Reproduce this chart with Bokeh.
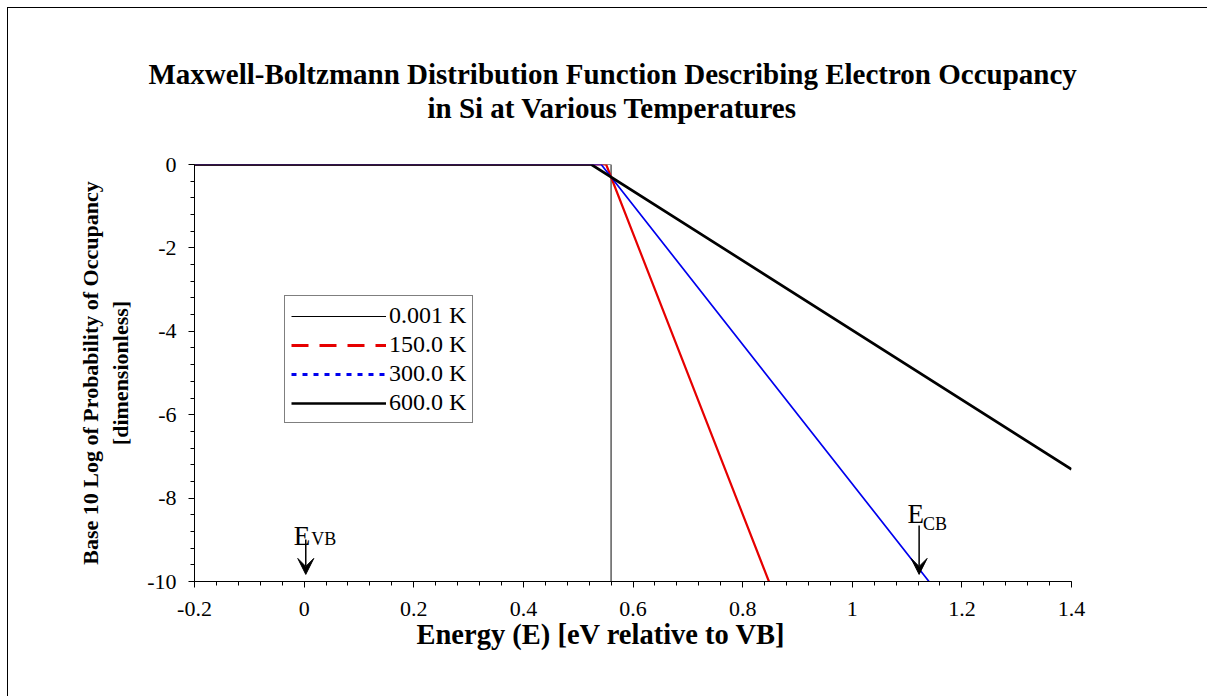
from bokeh.plotting import figure
from bokeh.models import (Range1d, FixedTicker, CustomJSTickFormatter, Legend, LegendItem,
                          Arrow, VeeHead, Title, ColumnDataSource)
from bokeh.core.properties import value
from bokeh.embed import file_html
from bokeh.resources import INLINE

# ---- data ----
series_names = ["0.001 K", "150.0 K", "300.0 K", "600.0 K"]
energy_0001 = [-0.2, 0.56, 0.56]
logp_0001 = [0.0, 0.0, -10.0]
energy_150 = [-0.2, 0.551, 0.848]
logp_150 = [0.0, 0.0, -10.0]
energy_300 = [-0.2, 0.542, 1.140]
logp_300 = [0.0, 0.0, -10.0]
energy_600 = [-0.2, 0.524, 1.4]
logp_600 = [0.0, 0.0, -7.31]

x_ticks = [-0.2, 0.0, 0.2, 0.4, 0.6, 0.8, 1.0, 1.2, 1.4]
x_tick_labels = ["-0.2", "0", "0.2", "0.4", "0.6", "0.8", "1", "1.2", "1.4"]
y_ticks = [-10, -8, -6, -4, -2, 0]
y_tick_labels = ["-10", "-8", "-6", "-4", "-2", "0"]

band_labels = ["E", "E"]
band_subs = ["VB", "CB"]
band_x = [0.003, 1.122]            # arrow energies
band_arrow_top = [-8.99, -8.66]
band_arrow_tip = [-9.83, -9.83]
band_label_x = [-0.019, 1.101]
band_label_y = [-8.92, -8.37]
band_sub_x = [0.013, 1.129]
band_sub_y = [-8.99, -8.63]

title_line1 = "Maxwell-Boltzmann Distribution Function Describing Electron Occupancy"
title_line2 = "in Si at Various Temperatures"
x_label = "Energy (E) [eV relative to VB]"
y_label = "Base 10 Log of Probability of Occupancy\n[dimensionless]"

FONT = "Liberation Serif"

p = figure(width=1200, height=689, x_range=Range1d(-0.2, 1.4), y_range=Range1d(-10, 0),
           output_backend="svg", toolbar_location=None,
           min_border_left=186, min_border_right=137, min_border_top=156, min_border_bottom=116,
           margin=(7, 0, 0, 7))
p.styles = {"border-top": "1px solid black", "border-left": "1px solid black"}
p.xgrid.visible = False
p.ygrid.visible = False
p.outline_line_color = None
p.background_fill_color = "white"
p.border_fill_color = "white"

t2 = Title(text=title_line2, text_font=FONT, text_font_size="29px", text_font_style="bold",
           align="left", offset=233, standoff=82, text_color="black")
t1 = Title(text=title_line1, text_font=FONT, text_font_size="29px", text_font_style="bold",
           align="left", offset=-46, standoff=-82, text_color="black")
p.add_layout(t2, "above")
p.add_layout(t1, "above")

minor_x = [round(-0.2 + 0.04 * i, 4) for i in range(41)]
minor_y = [round(-10 + 0.4 * i, 4) for i in range(26)]
p.xaxis.ticker = FixedTicker(ticks=x_ticks, minor_ticks=minor_x)
p.yaxis.ticker = FixedTicker(ticks=y_ticks, minor_ticks=minor_y)
fmt_code = """
let best = 0; let bd = 1e9;
for (let i = 0; i < vals.length; i++) { const d = Math.abs(vals[i] - tick); if (d < bd) { bd = d; best = i; } }
return labs[best];
"""
p.xaxis.formatter = CustomJSTickFormatter(args=dict(vals=x_ticks, labs=x_tick_labels), code=fmt_code)
p.yaxis.formatter = CustomJSTickFormatter(args=dict(vals=y_ticks, labs=y_tick_labels), code=fmt_code)

for ax in (p.xaxis[0], p.yaxis[0]):
    ax.axis_line_color = "black"
    ax.axis_line_width = 1
    ax.major_tick_line_color = "black"
    ax.minor_tick_line_color = "black"
    ax.major_tick_out = 6
    ax.major_tick_in = 0
    ax.minor_tick_out = 4
    ax.minor_tick_in = 0
    ax.major_label_text_font = FONT
    ax.major_label_text_font_size = "22px"
    ax.major_label_text_color = "black"
    ax.axis_label_text_font = FONT
    ax.axis_label_text_font_style = "bold"
    ax.axis_label_text_color = "black"

p.xaxis.major_label_standoff = 14
# x-axis title, placed as a title panel below the axis so it can be centred on the page
p.add_layout(Title(text=x_label, text_font=FONT, text_font_size="28.5px", text_font_style="bold",
                   align="left", offset=222, standoff=-4, text_color="black"), "below")
p.yaxis.axis_label = y_label
p.yaxis.axis_label_text_font_size = "22px"
p.yaxis.major_label_standoff = 12
p.yaxis.axis_label_standoff = 11

r1 = p.line(energy_0001, logp_0001, line_color="#333333", line_width=1.2)
r2 = p.line(energy_150, logp_150, line_color="#e60000", line_width=2.2)
r3 = p.line(energy_300, logp_300, line_color="#0000ee", line_width=1.7)
r4 = p.line(energy_600, logp_600, line_color="black", line_width=2.7)

# legend glyphs (dash styles as shown in the legend); NaN data -> nothing drawn in the plot
nan = float("nan")
def legend_src():
    return ColumnDataSource(dict(x=[nan, nan], y=[nan, nan]))
l1 = p.line("x", "y", source=legend_src(), line_color="black", line_width=1)
l2 = p.line("x", "y", source=legend_src(), line_color="#e60000", line_width=3,
            line_dash="17 11")
l3 = p.line("x", "y", source=legend_src(), line_color="#0000ee", line_width=3,
            line_dash="5 6")
l4 = p.line("x", "y", source=legend_src(), line_color="black", line_width=2.7)

legend = Legend(items=[LegendItem(label=series_names[0], renderers=[l1]),
                       LegendItem(label=series_names[1], renderers=[l2]),
                       LegendItem(label=series_names[2], renderers=[l3]),
                       LegendItem(label=series_names[3], renderers=[l4])],
                location=(90, 158), orientation="vertical",
                border_line_color="black", border_line_width=1, background_fill_alpha=1,
                label_text_font=FONT, label_text_font_size="24px", label_text_color="black",
                glyph_width=95, glyph_height=24, label_height=24, label_standoff=3,
                spacing=2, padding=6, margin=0)
p.add_layout(legend, "center")

# band-edge markers
for i in range(2):
    p.add_layout(Arrow(end=VeeHead(size=16, fill_color="black", line_color="black", line_width=1),
                       x_start=band_x[i], y_start=band_arrow_top[i],
                       x_end=band_x[i], y_end=band_arrow_tip[i],
                       line_color="black", line_width=1.5))

src_E = ColumnDataSource(dict(x=band_label_x, y=band_label_y, t=band_labels))
src_S = ColumnDataSource(dict(x=band_sub_x, y=band_sub_y, t=band_subs))
p.text("x", "y", text="t", source=src_E, text_font=value(FONT), text_font_size="27px",
       text_color="black", text_align="left", text_baseline="alphabetic")
p.text("x", "y", text="t", source=src_S, text_font=value(FONT), text_font_size="18px",
       text_color="black", text_align="left", text_baseline="alphabetic")

open("out.html", "w").write(file_html(p, INLINE))
